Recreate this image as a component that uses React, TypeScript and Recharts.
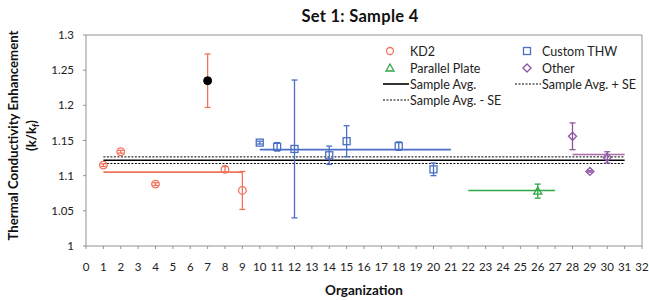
import React from "react";
import {
  ComposedChart,
  Scatter,
  XAxis,
  YAxis,
  ErrorBar,
  ReferenceLine,
  Legend,
  Label,
} from "recharts";

// ---- data ----
const kd2X = [1, 2, 4, 8, 9];
const kd2Y = [1.115, 1.134, 1.088, 1.109, 1.079];
const kd2Err = [0.002, 0.002, 0.002, 0.004, 0.027];

const outlierX = [7];
const outlierY = [1.235];
const outlierErr = [0.038];

const thwX = [10, 11, 12, 14, 15, 18, 20];
const thwY = [1.147, 1.141, 1.138, 1.129, 1.149, 1.142, 1.109];
const thwErr = [0.002, 0.006, 0.098, 0.013, 0.022, 0.006, 0.009];

const ppX = [26];
const ppY = [1.078];
const ppErr = [0.01];

const otherX = [28, 29, 30];
const otherY = [1.156, 1.106, 1.126];
const otherErr = [0.019, 0.001, 0.008];

// group averages: [xStart, xEnd, value]
const kd2Avg = [1, 9, 1.105];
const thwAvg = [10, 21, 1.137];
const ppAvg = [22, 27, 1.079];
const otherAvg = [28, 31, 1.13];

const sampleAvg = 1.122;
const sampleSE = 0.0047;
const sampleRange = [1, 31];

const xTicks = Array.from({ length: 33 }, (_, i) => i);
const yTicks = [1, 1.05, 1.1, 1.15, 1.2, 1.25, 1.3];

const C_KD2 = "#f2735b";
const C_THW = "#4a6fc4";
const C_PP = "#2ea84a";
const C_OTHER = "#8e54a4";
const C_OTHER_LINE = "#b06aa8";
const C_AXIS = "#8d9499";
const FONT = "Lato, 'Open Sans', sans-serif";

const build = (xs: number[], ys: number[], es: number[]) =>
  xs.map((x, i) => ({ x, y: ys[i], err: es[i] }));

const kd2Data = build(kd2X, kd2Y, kd2Err);
const outlierData = build(outlierX, outlierY, outlierErr);
const thwData = build(thwX, thwY, thwErr);
const ppData = build(ppX, ppY, ppErr);
const otherData = build(otherX, otherY, otherErr);

const CircleShape = (p: any) => (
  <circle cx={p.cx} cy={p.cy} r={3.8} fill="none" stroke={C_KD2} strokeWidth={1.3} />
);
const DotShape = (p: any) => <circle cx={p.cx} cy={p.cy} r={4} fill="#000" stroke="#000" />;
const SquareShape = (p: any) => (
  <rect x={p.cx - 3.5} y={p.cy - 3.5} width={7} height={7} fill="none" stroke={C_THW} strokeWidth={1.3} />
);
const TriShape = (p: any) => (
  <polygon
    points={`${p.cx},${p.cy - 4} ${p.cx - 4},${p.cy + 3} ${p.cx + 4},${p.cy + 3}`}
    fill="none"
    stroke={C_PP}
    strokeWidth={1.3}
  />
);
const DiamondShape = (p: any) => (
  <polygon
    points={`${p.cx},${p.cy - 4} ${p.cx + 4},${p.cy} ${p.cx},${p.cy + 4} ${p.cx - 4},${p.cy}`}
    fill="none"
    stroke={C_OTHER}
    strokeWidth={1.3}
  />
);

const renderLegend = () => {
  const rowY = [9, 26, 42, 58];
  const fs = 12.5;
  const t = (x: number, y: number, s: string) => (
    <text x={x} y={y + 4.5} fontSize={fs} fontFamily={FONT} fill="#222">
      {s}
    </text>
  );
  return (
    <svg width={270} height={68} style={{ overflow: "visible" }}>
      <circle cx={12} cy={rowY[0]} r={3.5} fill="none" stroke={C_KD2} strokeWidth={1.3} />
      {t(32, rowY[0], "KD2")}
      <rect x={145.5} y={rowY[0] - 3.5} width={7} height={7} fill="none" stroke={C_THW} strokeWidth={1.3} />
      {t(164, rowY[0], "Custom THW")}
      <polygon
        points={`12,${rowY[1] - 4} 8,${rowY[1] + 3} 16,${rowY[1] + 3}`}
        fill="none"
        stroke={C_PP}
        strokeWidth={1.3}
      />
      {t(32, rowY[1], "Parallel Plate")}
      <polygon
        points={`149,${rowY[1] - 4} 153,${rowY[1]} 149,${rowY[1] + 4} 145,${rowY[1]}`}
        fill="none"
        stroke={C_OTHER}
        strokeWidth={1.3}
      />
      {t(164, rowY[1], "Other")}
      <line x1={5} x2={31} y1={rowY[2]} y2={rowY[2]} stroke="#000" strokeWidth={1.6} />
      {t(32, rowY[2], "Sample Avg.")}
      <line x1={137} x2={163} y1={rowY[2]} y2={rowY[2]} stroke="#000" strokeWidth={1} strokeDasharray="2 1.5" />
      {t(164, rowY[2], "Sample Avg. + SE")}
      <line x1={5} x2={31} y1={rowY[3]} y2={rowY[3]} stroke="#000" strokeWidth={1} strokeDasharray="2 1.5" />
      {t(32, rowY[3], "Sample Avg. - SE")}
    </svg>
  );
};

const seg = (a: number[], color: string, w = 1.6) => (
  <ReferenceLine
    segment={[
      { x: a[0], y: a[2] },
      { x: a[1], y: a[2] },
    ]}
    stroke={color}
    strokeWidth={w}
    ifOverflow="visible"
  />
);

export default function App() {
  return (
    <div style={{ position: "absolute", left: 0, top: 0, width: 649, height: 300, background: "#fff" }}>
      <div
        style={{
          position: "absolute",
          left: 260,
          width: 200,
          top: 6,
          textAlign: "center",
          fontFamily: FONT,
          fontWeight: 700,
          fontSize: 16.5,
          letterSpacing: 0.3,
          color: "#111",
          lineHeight: "20px",
        }}
      >
        Set 1: Sample 4
      </div>
      <ComposedChart width={649} height={300} margin={{ top: 35, right: 7, bottom: 0, left: 0 }}>
        <XAxis
          type="number"
          dataKey="x"
          domain={[0, 32]}
          ticks={xTicks}
          interval={0}
          allowDataOverflow
          height={54}
          tickSize={3}
          tickMargin={14}
          stroke={C_AXIS}
          tick={{ fill: "#222", fontSize: 11.5, fontFamily: FONT }}
        >
          <Label
            content={(props: any) => {
              const vb = props.viewBox;
              return (
                <text
                  x={vb.x + vb.width / 2}
                  y={295}
                  textAnchor="middle"
                  fontFamily={FONT}
                  fontWeight={700}
                  fontSize={13.5}
                  fill="#111"
                >
                  Organization
                </text>
              );
            }}
          />
        </XAxis>
        <YAxis
          type="number"
          dataKey="y"
          domain={[1, 1.3]}
          ticks={yTicks}
          interval={0}
          allowDataOverflow
          width={86}
          tickSize={3}
          tickMargin={9}
          stroke={C_AXIS}
          tick={{ fill: "#222", fontSize: 11.5, fontFamily: FONT }}
        >
          <Label
            content={(props: any) => {
              const vb = props.viewBox;
              const cy = vb.y + vb.height / 2 - 5;
              return (
                <g>
                  <text
                    x={18}
                    y={cy}
                    transform={`rotate(-90, 18, ${cy})`}
                    textAnchor="middle"
                    fontFamily={FONT}
                    fontWeight={700}
                    fontSize={13.2}
                    fill="#111"
                  >
                    Thermal Conductivity Enhancement
                  </text>
                  <text
                    x={36}
                    y={cy}
                    transform={`rotate(-90, 36, ${cy})`}
                    textAnchor="middle"
                    fontFamily={FONT}
                    fontWeight={700}
                    fontSize={13.2}
                    fill="#111"
                  >
                    (k/k<tspan fontSize={9} dy={3}>f</tspan>
                    <tspan dy={-3}>)</tspan>
                  </text>
                </g>
              );
            }}
          />
        </YAxis>

        {/* frame top and right */}
        <ReferenceLine y={1.3} stroke={C_AXIS} strokeWidth={1} ifOverflow="visible" />
        <ReferenceLine x={32} stroke={C_AXIS} strokeWidth={1} ifOverflow="visible" />

        {/* group averages */}
        {seg(kd2Avg, C_KD2)}
        {seg(thwAvg, C_THW)}
        {seg(ppAvg, C_PP)}
        {seg(otherAvg, C_OTHER_LINE)}

        {/* sample average and SE */}
        <ReferenceLine
          segment={[
            { x: sampleRange[0], y: sampleAvg },
            { x: sampleRange[1], y: sampleAvg },
          ]}
          stroke="#000"
          strokeWidth={1.6}
          ifOverflow="visible"
        />
        <ReferenceLine
          segment={[
            { x: sampleRange[0], y: sampleAvg + sampleSE },
            { x: sampleRange[1], y: sampleAvg + sampleSE },
          ]}
          stroke="#000"
          strokeWidth={1}
          strokeDasharray="2 1.5"
          ifOverflow="visible"
        />
        <ReferenceLine
          segment={[
            { x: sampleRange[0], y: sampleAvg - sampleSE },
            { x: sampleRange[1], y: sampleAvg - sampleSE },
          ]}
          stroke="#000"
          strokeWidth={1}
          strokeDasharray="2 1.5"
          ifOverflow="visible"
        />

        <Scatter name="KD2" data={kd2Data} shape={CircleShape} isAnimationActive={false} fill={C_KD2}>
          <ErrorBar dataKey="err" direction="y" width={3} stroke={C_KD2} strokeWidth={1.3} />
        </Scatter>
        <Scatter name="KD2 outlier" data={outlierData} shape={DotShape} isAnimationActive={false} fill="#000">
          <ErrorBar dataKey="err" direction="y" width={3} stroke={C_KD2} strokeWidth={1.3} />
        </Scatter>
        <Scatter name="Custom THW" data={thwData} shape={SquareShape} isAnimationActive={false} fill={C_THW}>
          <ErrorBar dataKey="err" direction="y" width={3} stroke={C_THW} strokeWidth={1.3} />
        </Scatter>
        <Scatter name="Parallel Plate" data={ppData} shape={TriShape} isAnimationActive={false} fill={C_PP}>
          <ErrorBar dataKey="err" direction="y" width={3} stroke={C_PP} strokeWidth={1.3} />
        </Scatter>
        <Scatter name="Other" data={otherData} shape={DiamondShape} isAnimationActive={false} fill={C_OTHER}>
          <ErrorBar dataKey="err" direction="y" width={3} stroke={C_OTHER} strokeWidth={1.3} />
        </Scatter>

        <Legend
          content={renderLegend}
          layout="horizontal"
          verticalAlign="middle"
          align="center"
          wrapperStyle={{ position: "absolute", left: 378, top: 42, width: 270, height: 68 }}
        />
      </ComposedChart>
    </div>
  );
}
